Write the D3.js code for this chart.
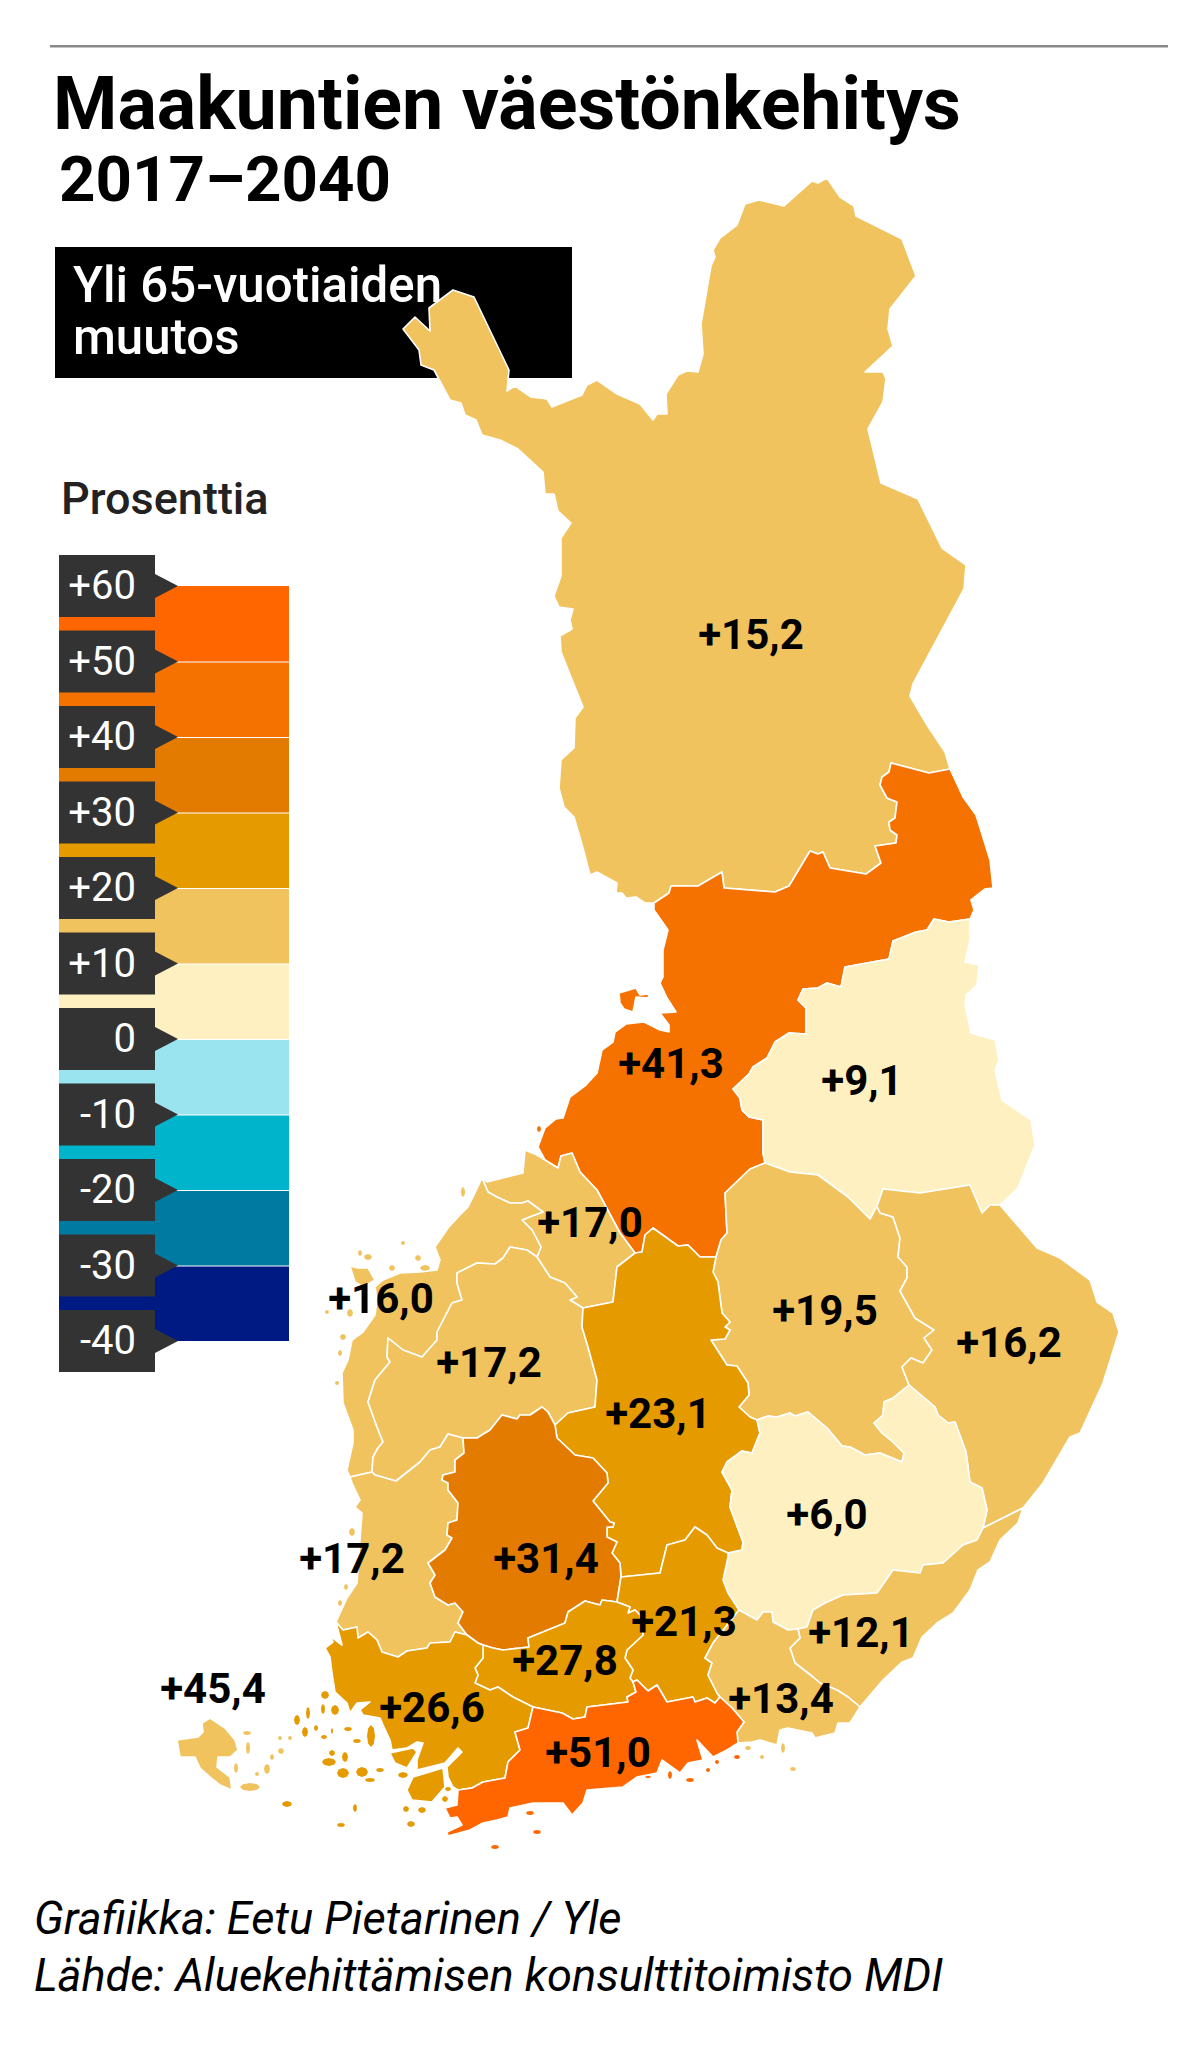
<!DOCTYPE html>
<html><head><meta charset="utf-8">
<script src="https://cdnjs.cloudflare.com/ajax/libs/d3/7.8.5/d3.min.js"></script>
<style>html,body{margin:0;padding:0;background:#fff}svg{display:block}text{font-family:Roboto,sans-serif}</style>
</head><body><svg id="c" width="1199" height="2045"></svg>
<script>
// ---------- values ----------
const regionNames = ["Lappi","Pohjois-Pohjanmaa","Kainuu","Keski-Pohjanmaa","Pohjanmaa","Etelä-Pohjanmaa","Pohjois-Savo","Pohjois-Karjala","Keski-Suomi","Etelä-Savo","Satakunta","Pirkanmaa","Päijät-Häme","Etelä-Karjala","Kymenlaakso","Kanta-Häme","Varsinais-Suomi","Uusimaa","Ahvenanmaa"];
const regionValues = [15.2,41.3,9.1,17.0,16.0,17.2,19.5,16.2,23.1,6.0,17.2,31.4,21.3,12.1,13.4,27.8,26.6,51.0,45.4];
const labelX = [751,671,862,590,381,489,825,1009,658,827,352,546,684,861,781,565,432,598,213];
const labelY = [649,1078,1095,1237,1313,1377,1325,1357,1428,1529,1573,1573,1636,1647,1713,1675,1722,1767,1703];
const legendTicks = [60,50,40,30,20,10,0,-10,-20,-30,-40];
const legendTickLabels = ["+60","+50","+40","+30","+20","+10","0","-10","-20","-30","-40"];
const legendColors = ["#ff6600","#f57200","#e37b00","#e59a00","#f1c35f","#fef0c0","#99e4ee","#00b5cb","#007aa0","#001a84"];
// Åland is printed in the light band in the source despite its label
const alandFillBand = 15;

// ---------- map geometry (shared borders) ----------
const lapNorth=[[812,181],[818,183],[827,178],[840,197],[854,206],[856,216],[902,239],[916,276],[890,309],[888,329],[893,346],[865,372],[883,372],[886,379],[883,402],[868,429],[881,483],[918,499],[942,548],[966,565],[964,589],[913,684],[910,696],[927,725],[945,752]];
const lapPP=[[950,769],[929,773],[891,763],[889,772],[882,777],[880,785],[887,798],[897,802],[895,818],[889,822],[890,830],[897,835],[896,843],[875,846],[881,863],[866,874],[830,868],[823,852],[818,854],[810,851],[789,886],[775,892],[724,888],[722,872],[698,886],[671,886],[669,893],[654,903]];
const lapWest=[[645,903],[636,897],[626,898],[622,893],[616,893],[617,883],[597,872],[590,875],[583,848],[574,817],[564,807],[559,788],[561,760],[574,748],[575,718],[583,707],[561,652],[560,636],[572,629],[570,620],[573,609],[559,607],[554,596],[561,576],[561,538],[571,523],[558,511],[554,494],[545,494],[543,472],[518,449],[500,440],[482,435],[476,420],[465,415],[461,403],[450,400],[434,370],[421,365],[419,350],[403,329],[415,317],[430,331],[429,308],[453,290],[474,297],[509,370],[507,391],[515,386],[531,397],[547,399],[552,407],[582,395],[587,385],[597,380],[617,394],[640,404],[653,420],[657,414],[667,414],[666,394],[678,375],[687,371],[698,372],[703,354],[701,324],[711,266],[715,257],[713,250],[720,238],[737,225],[745,204],[759,200],[784,206]];
const ppEast=[[963,797],[976,815],[990,860],[993,888],[985,889],[971,900],[974,910]];
const ppKainuu=[[970,919],[949,922],[934,919],[927,930],[916,932],[893,941],[889,959],[845,967],[841,987],[827,983],[818,988],[803,989],[798,1000],[806,1008],[806,1034],[789,1033],[775,1042],[767,1058],[753,1067],[749,1074],[733,1089],[740,1098],[742,1110],[749,1117],[763,1120],[763,1153],[765,1163]];
const ppSavo=[[765,1163],[750,1169],[725,1193],[727,1233],[721,1240],[716,1257]];
const ppKS=[[716,1257],[700,1257],[688,1245],[678,1246],[653,1228],[645,1235],[642,1252],[635,1253]];
const kpPP=[[545,1160],[558,1168],[561,1156],[572,1153],[580,1172],[597,1190],[620,1233],[635,1253]];
const ppWest=[[538,1147],[545,1128],[556,1119],[563,1118],[570,1097],[586,1085],[597,1073],[602,1050],[613,1042],[615,1032],[626,1024],[644,1022],[660,1030],[669,1032],[669,1025],[660,1013],[676,1012],[667,998],[660,983],[663,977],[663,950],[668,930],[654,910]];
const hailuoto=[[619,993],[636,988],[640,995],[649,994],[648,998],[636,997],[633,1012],[624,1009],[620,1003]];
const kainuuEast=[[970,919],[970,940],[965,962],[979,965],[977,985],[966,995],[965,1005],[971,1033],[995,1040],[999,1060],[995,1070],[1002,1100],[1031,1120],[1035,1145],[1027,1165],[1018,1188],[1000,1205]];
const kainuuNK=[[1000,1205],[990,1205],[982,1213],[970,1185],[920,1193],[883,1189],[877,1206]];
const kainuuSavo=[[877,1206],[870,1219],[848,1197],[818,1175],[790,1172],[765,1163]];
const savoNK=[[877,1206],[880,1213],[893,1217],[900,1238],[898,1257],[907,1267],[907,1278],[900,1291],[915,1318],[934,1330],[924,1338],[932,1350],[923,1363],[911,1358],[902,1367],[909,1385]];
const savoES=[[909,1385],[893,1398],[884,1402],[883,1415],[874,1423],[882,1433],[893,1442],[904,1453],[902,1462],[880,1453],[865,1455],[850,1447],[842,1446],[827,1428],[808,1412],[795,1416],[790,1413],[777,1417],[768,1416],[757,1420]];
const ksSavo=[[716,1257],[713,1272],[718,1282],[722,1313],[730,1322],[725,1327],[730,1330],[725,1339],[711,1340],[727,1365],[737,1366],[748,1383],[749,1395],[739,1407],[750,1417],[757,1420]];
const nkCoast=[[1037,1248],[1060,1258],[1090,1280],[1097,1302],[1113,1313],[1119,1332],[1103,1383],[1080,1433],[1070,1437],[1043,1483],[1023,1508]];
const nkEK=[[1023,1508],[983,1528]];
const nkES=[[983,1528],[987,1510],[982,1488],[970,1482],[966,1452],[955,1422],[948,1423],[938,1415],[935,1407],[909,1385]];
const esEK=[[983,1528],[977,1540],[963,1545],[943,1563],[923,1565],[920,1573],[893,1570],[877,1593],[843,1595],[825,1603],[813,1610],[807,1627],[798,1629]];
const esKymi=[[798,1629],[788,1630],[773,1622],[772,1612],[763,1612],[757,1620],[739,1610]];
const esPH=[[739,1610],[728,1593],[723,1580],[728,1557],[728,1553]];
const esKS=[[728,1553],[742,1550],[743,1542],[730,1507],[732,1490],[722,1472],[727,1462],[742,1451],[752,1453],[760,1433],[757,1420]];
const ksKP=[[635,1253],[617,1267],[613,1302],[583,1308]];
const ksEP=[[583,1308],[582,1327],[588,1347],[597,1380],[595,1407],[568,1413],[555,1425]];
const ksPirk=[[555,1425],[557,1438],[575,1455],[593,1458],[607,1473],[608,1483],[593,1501],[610,1522],[614,1523],[613,1527],[607,1527],[607,1537],[617,1542],[612,1553],[620,1563],[621,1577]];
const ksPH=[[621,1577],[660,1573],[667,1545],[685,1540],[695,1527],[707,1535],[717,1548],[728,1553]];
const phKymi=[[739,1610],[713,1643],[705,1658],[712,1663],[708,1675],[717,1693],[720,1697]];
const phUus=[[720,1697],[715,1703],[707,1698],[695,1702],[693,1697],[667,1702],[657,1685],[648,1691],[637,1680],[633,1682]];
const phKH=[[633,1682],[630,1678],[633,1670],[625,1658],[627,1650],[643,1635],[640,1615],[635,1610],[628,1613],[630,1607],[617,1602]];
const khUus=[[633,1682],[636,1692],[627,1697],[628,1702],[587,1707],[585,1717],[573,1719],[562,1713],[533,1707]];
const khVS=[[533,1707],[513,1697],[498,1687],[490,1690],[475,1683],[478,1675],[475,1668],[483,1658],[483,1645]];
const khPirk=[[483,1645],[493,1648],[503,1650],[529,1647],[528,1638],[565,1623],[568,1612],[585,1601],[600,1605],[602,1600],[617,1602]];
const epPirk=[[463,1438],[477,1438],[490,1430],[502,1415],[517,1419],[520,1415],[530,1415],[542,1407],[548,1412],[555,1425]];
const sataPirk=[[463,1438],[464,1453],[455,1460],[455,1472],[443,1475],[442,1480],[448,1483],[448,1490],[458,1503],[457,1520],[448,1523],[447,1535],[452,1538],[445,1550],[428,1563],[435,1575],[430,1583],[435,1597],[448,1605],[455,1603],[463,1612],[458,1623],[467,1635]];
const sataVS=[[467,1635],[455,1632],[450,1642],[430,1643],[427,1648],[407,1651],[398,1657],[382,1652],[377,1640],[368,1632],[358,1638],[357,1627],[343,1630],[336,1622]];
const sataCoast=[[347,1598],[357,1583],[360,1540],[362,1513],[355,1507],[360,1500],[352,1483]];
const sataPoh=[[350,1477],[372,1472]];
const sataEP=[[372,1472],[375,1475],[396,1481],[420,1462],[430,1450],[440,1447],[448,1434],[463,1438]];
const vsUus=[[533,1707],[528,1728],[515,1732],[520,1750],[508,1762],[505,1778],[483,1782],[472,1788],[458,1790]];
const vsCoast=[[453,1787],[448,1777],[447,1767],[462,1752],[458,1748],[445,1763],[417,1770],[417,1760],[423,1743],[417,1742],[407,1748],[392,1750],[390,1740],[383,1725],[380,1718],[363,1715],[360,1710],[370,1702],[357,1703],[350,1713],[347,1703],[335,1692],[332,1673],[330,1657],[325,1648],[333,1642],[330,1636],[342,1645]];
const uusKymi=[[720,1697],[732,1708],[744,1722],[737,1732],[738,1743]];
const uusCoast=[[458,1790],[457,1805],[445,1808],[450,1818],[457,1817],[462,1825],[447,1832],[448,1836],[470,1830],[483,1823],[497,1820],[508,1817],[510,1808],[533,1803],[563,1803],[572,1815],[583,1803],[587,1790],[623,1787],[637,1777],[657,1773],[662,1760],[680,1773],[688,1763],[703,1760],[697,1740],[713,1757],[727,1750],[738,1743]];
const kymiEK=[[798,1629],[800,1638],[790,1648],[795,1663],[813,1677],[820,1683],[837,1690],[848,1697],[860,1707]];
const kymiCoast=[[850,1723],[838,1723],[835,1733],[815,1738],[812,1733],[788,1728],[780,1730],[777,1745],[760,1740],[752,1742],[738,1743]];
const ekCoast=[[883,1680],[902,1662],[913,1658],[922,1637],[937,1623],[953,1613],[970,1590],[978,1570],[990,1562],[1000,1540],[1018,1523],[1023,1508]];
const pohCoast=[[482,1178],[473,1197],[468,1207],[460,1215],[448,1228],[435,1247],[440,1260],[437,1270],[420,1272],[400,1273],[383,1280],[375,1287],[377,1300],[375,1315],[363,1332],[352,1340],[348,1360],[342,1373],[343,1403],[353,1430],[353,1443],[347,1470],[350,1477]];
const pohEP=[[372,1472],[373,1457],[378,1448],[383,1442],[377,1427],[368,1402],[375,1380],[390,1362],[387,1357],[388,1338],[403,1350],[422,1357],[437,1340],[437,1332],[452,1303],[462,1300],[457,1283],[457,1273],[477,1263],[495,1264],[503,1258],[510,1247],[527,1250],[537,1257]];
const pohKP=[[537,1257],[541,1247],[532,1230],[522,1220],[532,1216],[543,1212],[528,1201],[522,1203],[510,1203],[497,1197],[488,1192],[482,1178]];
const epKP=[[537,1257],[550,1277],[565,1283],[577,1297],[570,1300],[583,1308]];
const kpCoast=[[482,1178],[487,1182],[523,1173],[525,1150],[537,1155],[545,1160]];
const alandMain=[[177,1740],[198,1737],[203,1732],[202,1723],[210,1718],[225,1728],[235,1740],[238,1750],[230,1757],[218,1757],[217,1767],[230,1777],[232,1790],[220,1785],[210,1777],[200,1768],[195,1757],[180,1757]];
const pohBlob=[[350,1266],[358,1268],[368,1268],[375,1280],[363,1287],[355,1282]];
const isletLarge=[[390,1753],[413,1748],[417,1752],[407,1768],[395,1763]];
const islandKemio=[[413,1777],[443,1768],[445,1787],[432,1802],[412,1800],[407,1790]];
// islets: centre x, centre y, half-width, half-height
const isletsVS=[[325,1695,4,4],[323,1709,2,5],[335,1710,4,5],[308,1713,2,6],[297,1720,3,5],[305,1732,3,5],[316,1728,2,3],[324,1737,3,2],[332,1731,1,3],[348,1729,4,2],[371,1736,4,11],[357,1741,4,2],[332,1753,3,3],[345,1757,3,5],[329,1762,7,4],[343,1773,6,5],[362,1772,6,5],[370,1780,5,2],[380,1770,4,2],[403,1775,5,3],[448,1789,3,2],[445,1799,3,3],[406,1809,3,3],[422,1810,4,3],[355,1808,2,4],[287,1804,5,3],[341,1825,4,2],[411,1824,4,3]];
const isletsAland=[[247,1733,4,2],[248,1748,2,6],[236,1768,2,5],[250,1787,10,4],[267,1769,3,5],[257,1774,2,2],[272,1757,2,3],[281,1751,3,3],[280,1738,2,2],[290,1738,2,2]];
const isletsUus=[[530,1813,4,2],[537,1832,4,2],[495,1847,4,2],[648,1777,3,1],[670,1775,2,4],[690,1780,4,2],[708,1770,2,2],[717,1762,2,2],[737,1757,3,2]];
const isletsKymi=[[748,1748,3,2],[762,1757,2,2],[783,1748,2,5],[793,1769,3,2]];
const isletsPoh=[[463,1192,2,5],[403,1243,2,2],[360,1253,2,3],[368,1257,4,3],[392,1268,3,3],[418,1258,3,3],[425,1268,5,3],[343,1337,3,3],[350,1313,3,4],[327,1312,2,2],[340,1353,2,3],[337,1383,2,2]];
const isletsSata=[[352,1532,3,4],[340,1603,2,3],[346,1587,2,3]];
const isletPP=[[539,1129,2,3]];

// ---------- builders ----------
const rev = a => a.slice().reverse();
const blob = ([x,y,w,h]) => d3.range(8).map(k=>[x+w*Math.cos(k*Math.PI/4),y+h*Math.sin(k*Math.PI/4)]);
const ringsByRegion = {
 "Lappi":[[...lapNorth,...lapPP,...lapWest]],
 "Pohjois-Pohjanmaa":[[...rev(lapPP),...ppEast,...ppKainuu,...ppSavo.slice(1),...ppKS.slice(1),...rev(kpPP).slice(1),...ppWest],hailuoto],
 "Kainuu":[[...kainuuEast,...kainuuNK.slice(1),...kainuuSavo.slice(1),...rev(ppKainuu).slice(1)]],
 "Keski-Pohjanmaa":[[...kpCoast,...kpPP.slice(1),...ksKP.slice(1),...rev(epKP).slice(1),...pohKP.slice(1)]],
 "Pohjanmaa":[[...pohCoast,...pohEP,...pohKP.slice(1)],pohBlob],
 "Etelä-Pohjanmaa":[[...pohEP,...epKP.slice(1),...ksEP.slice(1),...rev(epPirk).slice(1),...rev(sataEP).slice(1)]],
 "Pohjois-Savo":[[...rev(kainuuSavo),...savoNK.slice(1),...savoES.slice(1),...rev(ksSavo).slice(1),...rev(ppSavo).slice(1)]],
 "Pohjois-Karjala":[[...rev(kainuuNK),...nkCoast.slice(0,-1),...nkEK,...nkES.slice(1),...rev(savoNK).slice(1)]],
 "Keski-Suomi":[[...ppKS,...ksKP.slice(1),...ksEP.slice(1),...ksPirk.slice(1),...ksPH.slice(1),...esKS.slice(1),...rev(ksSavo).slice(1)]],
 "Etelä-Savo":[[...rev(nkES),...esEK.slice(1),...esKymi.slice(1),...esPH.slice(1),...esKS.slice(1),...rev(savoES).slice(1)]],
 "Satakunta":[[...sataPirk,...sataVS.slice(1),...sataCoast,...sataPoh,...sataEP.slice(1)]],
 "Pirkanmaa":[[...epPirk,...ksPirk.slice(1),...rev(khPirk),[478,1643],...rev(sataPirk)]],
 "Päijät-Häme":[[...ksPH,...rev(esPH).slice(1),...phKymi.slice(1),...phUus.slice(1),...phKH.slice(1)]],
 "Etelä-Karjala":[[...esEK,...kymiEK.slice(1),...ekCoast]],
 "Kymenlaakso":[[...rev(phKymi),...rev(esKymi).slice(1),...kymiEK.slice(1),...kymiCoast,...rev(uusKymi).slice(1)]],
 "Kanta-Häme":[[...rev(phKH),...khUus.slice(1),...khVS.slice(1),...khPirk.slice(1)]],
 "Varsinais-Suomi":[[...rev(sataVS),[478,1643],...rev(khVS),...vsUus.slice(1),...vsCoast],isletLarge,islandKemio],
 "Uusimaa":[[...rev(phUus),...uusKymi.slice(1),...rev(uusCoast).slice(1),...rev(vsUus).slice(1),...rev(khUus).slice(1)]],
 "Ahvenanmaa":[alandMain]
};
const isletsByRegion = {"Pohjois-Pohjanmaa":isletPP,"Pohjanmaa":isletsPoh,"Satakunta":isletsSata,"Kymenlaakso":isletsKymi,"Varsinais-Suomi":isletsVS,"Uusimaa":isletsUus,"Ahvenanmaa":isletsAland};

// ---------- scales ----------
const legendBreaks = legendTicks.slice(1,-1).reverse();        // -30 ... 50
const color = d3.scaleThreshold().domain(legendBreaks).range(legendColors.slice().reverse());
const legendY = d3.scaleLinear().domain([60,-40]).range([586,1341]);
const svg = d3.select("#c");

// ---------- header ----------
svg.append("rect").attr("x",50).attr("y",45).attr("width",1118).attr("height",2.5).attr("fill","#888");
svg.append("text").attr("x",53).attr("y",129).attr("font-size",73.6).attr("font-weight",700).text("Maakuntien väestönkehitys");
svg.append("text").attr("x",59).attr("y",201).attr("font-size",63.6).attr("font-weight",700).text("2017–2040");
svg.append("rect").attr("x",55).attr("y",247).attr("width",517).attr("height",131).attr("fill","#000");
svg.append("text").attr("x",73).attr("y",302).attr("font-size",49.2).attr("font-weight",500).attr("fill","#fff").text("Yli 65-vuotiaiden");
svg.append("text").attr("x",73).attr("y",354).attr("font-size",49.2).attr("font-weight",500).attr("fill","#fff").text("muutos");
svg.append("text").attr("x",61).attr("y",514).attr("font-size",45).attr("font-weight",500).attr("fill","#222").text("Prosenttia");

// ---------- legend ----------
const legend = svg.append("g");
legend.selectAll("rect.band").data(legendColors).join("rect").attr("class","band")
 .attr("x",59).attr("width",230)
 .attr("y",(d,i)=>legendY(legendTicks[i])+(i?1:0))
 .attr("height",(d,i)=>legendY(legendTicks[i+1])-legendY(legendTicks[i])-(i?1:0))
 .attr("fill",d=>d);
legend.selectAll("path.tag").data(legendTicks).join("path").attr("class","tag")
 .attr("fill","#333")
 .attr("d",t=>{const y=legendY(t);return `M59 ${y-31}H155V${y-12}L178 ${y}L155 ${y+12}V${y+31}H59Z`;});
legend.selectAll("text.tl").data(legendTickLabels).join("text").attr("class","tl")
 .attr("x",136).attr("y",(d,i)=>legendY(legendTicks[i])+13).attr("text-anchor","end")
 .attr("font-size",40).attr("fill","#fff").text(d=>d);

// ---------- map ----------
const path = d3.geoPath(d3.geoIdentity());
const fillOf = name => color(name==="Ahvenanmaa"?alandFillBand:regionValues[regionNames.indexOf(name)]);
const features = regionNames.map((name,i)=>({type:"Feature",properties:{name},
  geometry:{type:"MultiPolygon",coordinates:ringsByRegion[name].map(r=>[[...r,r[0]]])}}));
const isletFeatures = Object.keys(isletsByRegion).map(name=>({type:"Feature",properties:{name},
  geometry:{type:"MultiPolygon",coordinates:isletsByRegion[name].map(blob).map(r=>[[...r,r[0]]])}}));
svg.append("g").selectAll("path").data(isletFeatures).join("path")
 .attr("d",path).attr("fill",d=>fillOf(d.properties.name));
svg.append("g").selectAll("path").data(features).join("path")
 .attr("d",path)
 .attr("fill",d=>fillOf(d.properties.name))
 .attr("stroke","#fff").attr("stroke-width",1.6).attr("stroke-linejoin","round");

// ---------- region labels ----------
const fmt = v => "+"+v.toFixed(1).replace(".",",");
svg.append("g").selectAll("text").data(regionValues).join("text")
 .attr("x",(d,i)=>labelX[i]).attr("y",(d,i)=>labelY[i]).attr("text-anchor","middle")
 .attr("font-size",42).attr("font-weight",700).attr("fill","#000").text(fmt);

// ---------- footer ----------
svg.append("text").attr("x",34).attr("y",1934).attr("font-size",45.2).attr("font-style","italic").text("Grafiikka: Eetu Pietarinen / Yle");
svg.append("text").attr("x",34).attr("y",1991).attr("font-size",45.2).attr("font-style","italic").text("Lähde: Aluekehittämisen konsulttitoimisto MDI");
</script></body></html>
